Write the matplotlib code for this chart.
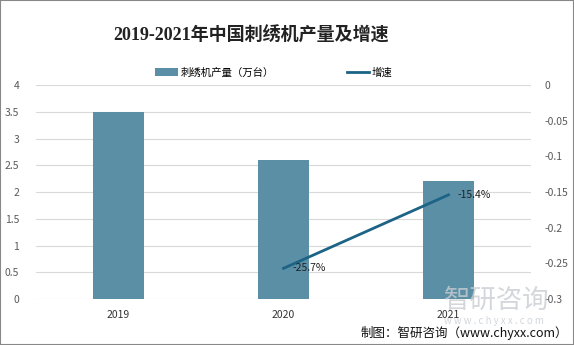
import matplotlib
matplotlib.use("Agg")
import matplotlib.pyplot as plt
from matplotlib.patches import Rectangle

plt.rcParams['font.family'] = ['Noto Sans CJK SC', 'DejaVu Sans']

years = ['2019', '2020', '2021']
output = [3.5, 2.6, 2.2]
growth_years = ['2020', '2021']
growth = [-0.257, -0.154]
growth_labels = ['-25.7%', '-15.4%']
left_ticks = [0, 0.5, 1, 1.5, 2, 2.5, 3, 3.5, 4]
right_ticks = [0, -0.05, -0.1, -0.15, -0.2, -0.25, -0.3]

bar_color = '#5B8FA6'
line_color = '#1C6385'
grid_color = '#D9D9D9'
tick_color = '#595959'

fig = plt.figure(figsize=(5.74, 3.45), dpi=100)
fig.patch.set_facecolor('white')
fig.patches.append(Rectangle((0, 0), 1, 1, transform=fig.transFigure, fill=False,
                             edgecolor='#888888', linewidth=1.5))

ax = fig.add_axes([0.0627, 0.1333, 0.8624, 0.6203])
x = list(range(len(years)))
ax.bar(x, output, width=0.315, color=bar_color, zorder=2, label='刺绣机产量（万台）')
ax.set_xlim(-0.5, 2.5)
ax.set_ylim(0, 4)
ax.set_yticks(left_ticks)
ax.set_yticklabels([f'{t:g}' for t in left_ticks])
ax.set_xticks(x)
ax.set_xticklabels(years)
ax.grid(axis='y', color=grid_color, linewidth=0.8, zorder=0)
for s in ax.spines.values():
    s.set_visible(False)
ax.tick_params(axis='both', length=0, labelsize=7.5, colors=tick_color)
ax.tick_params(axis='x', pad=8, labelcolor='#333333')
ax.tick_params(axis='y', pad=12)

ax2 = ax.twinx()
gx = [years.index(y) for y in growth_years]
ax2.plot(gx, growth, color=line_color, linewidth=2, zorder=3, label='增速')
ax2.set_ylim(-0.3, 0)
ax2.set_yticks(right_ticks)
ax2.set_yticklabels([f'{t:g}' for t in right_ticks])
for s in ax2.spines.values():
    s.set_visible(False)
ax2.tick_params(axis='y', length=0, labelsize=7.5, colors=tick_color, pad=10)
for xi, yi, lab in zip(gx, growth, growth_labels):
    ax2.annotate(lab, (xi, yi), xytext=(6.5, 0), textcoords='offset points',
                 fontsize=7.5, color='#222222', va='center', ha='left')

fig.text(0.437, 0.898, '2019-2021年中国刺绣机产量及增速', ha='center', va='center',
         fontsize=13, fontweight='bold', color='#222222',
         family=['Liberation Serif', 'Noto Sans CJK SC'])

h1, l1 = ax.get_legend_handles_labels()
h2, l2 = ax2.get_legend_handles_labels()
fig.legend(h1 + h2, l1 + l2, loc='center', bbox_to_anchor=(0.477, 0.79), ncol=2,
           frameon=False, fontsize=7.5, columnspacing=7.0, handlelength=2.2,
           handletextpad=0.2)

# watermark
fig.text(0.866, 0.13, '智研咨询', ha='center', va='center', fontsize=19,
         color='#C8CDD2', alpha=0.8, zorder=10)
fig.text(0.86, 0.07, 'w w w . c h y x x . c o m', ha='center', va='center', fontsize=7,
         color='#C8CDD2', alpha=0.8, zorder=10)
fig.text(0.99, 0.035, '制图：智研咨询（www.chyxx.com）', ha='right', va='center',
         fontsize=9, color='#111111')

fig.savefig('out.png', dpi=100)
